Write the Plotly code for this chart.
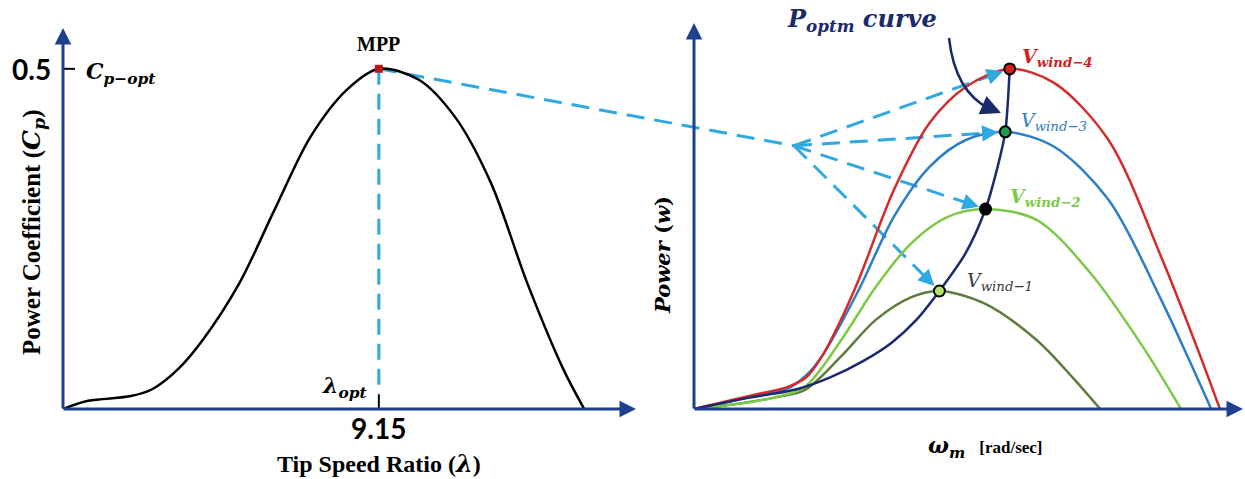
import math
import plotly.graph_objects as go

# ---------------- data ----------------
# Power coefficient curve Cp(lambda)
tsr = [0, 0.73, 1.97, 2.58, 3.34, 4.07, 5.11, 6.13, 7.17, 8.22, 9.15, 10.31, 11.36, 12.40, 13.45, 14.49, 15.10]
cp = [0, 0.012, 0.019, 0.029, 0.059, 0.103, 0.185, 0.293, 0.400, 0.469, 0.5, 0.484, 0.429, 0.332, 0.185, 0.059, 0]
tsr_opt = 9.15
cp_opt = 0.5

# Power vs rotor speed for four wind speeds
w_wind4 = [0, 0.67, 1.25, 1.71, 2.05, 2.35, 2.67, 3.0, 3.64, 4.29, 4.95, 5.75, 6.56, 7.55, 8.51, 9.16, 9.58]
p_wind4 = [0, 0.026, 0.047, 0.065, 0.094, 0.16, 0.26, 0.38, 0.644, 0.841, 0.947, 1.0, 0.959, 0.791, 0.447, 0.182, 0]
w_wind3 = [0, 0.65, 1.2, 1.69, 2.05, 2.35, 3.0, 3.64, 4.29, 4.95, 5.67, 6.56, 7.55, 8.51, 9.02, 9.42]
p_wind3 = [0, 0.022, 0.042, 0.059, 0.1, 0.16, 0.35, 0.565, 0.712, 0.791, 0.815, 0.771, 0.615, 0.321, 0.144, 0]
w_wind2 = [0, 0.84, 1.5, 2.02, 2.67, 3.31, 3.96, 4.62, 5.31, 6.24, 7.22, 8.18, 8.87]
p_wind2 = [0, 0.016, 0.035, 0.065, 0.2, 0.359, 0.488, 0.565, 0.588, 0.556, 0.4, 0.182, 0]
w_wind1 = [0, 0.84, 1.5, 2.02, 2.67, 3.31, 3.96, 4.47, 5.27, 6.24, 6.89, 7.4]
p_wind1 = [0, 0.016, 0.035, 0.056, 0.153, 0.262, 0.329, 0.347, 0.312, 0.203, 0.094, 0]

# Optimum power locus through the peaks
w_optm = [0, 0.96, 1.87, 2.47, 3.07, 3.6, 4.05, 4.47, 4.95, 5.31, 5.53, 5.67, 5.75]
p_optm = [0, 0.032, 0.058, 0.092, 0.14, 0.195, 0.262, 0.347, 0.459, 0.588, 0.712, 0.815, 1.0]

# Peak (MPP) points, wind-1 .. wind-4
peak_w = [4.47, 5.31, 5.67, 5.75]
peak_p = [0.347, 0.588, 0.815, 1.0]
peak_labels = ["V<sub>wind−1</sub>", "V<sub>wind−2</sub>", "V<sub>wind−3</sub>", "V<sub>wind−4</sub>"]

# Junction where the dashed guide lines fan out
hub_w, hub_p = 1.82, 0.774

# ---------------- layout geometry (pixels) ----------------
W, H = 1245, 479
L_X0, L_X1, L_Y0, L_Y1 = 63, 636, 409, 28     # left panel box
R_X0, R_X1, R_Y0, R_Y1 = 694, 1243, 409, 23   # right panel box
L_XR, L_YR = [0, 16.6], [0, 0.56]
R_XR, R_YR = [0, 10.0], [0, 1.135]

NAVY = "#1f3f8f"
CYAN = "#2fa9e0"
RED = "#d42a2a"
BLUE = "#2a7fc6"
LGREEN = "#7cc94a"
OLIVE = "#5e7d3c"
DNAVY = "#1a2a6c"
SERIF = "Liberation Serif"
MATH = "DejaVu Serif"
DASH = "18px,10px"


def pp(x, y):
    """pixel -> paper"""
    return x / W, 1 - y / H


def left_px(x, y):
    px = L_X0 + (x - L_XR[0]) / (L_XR[1] - L_XR[0]) * (L_X1 - L_X0)
    py = L_Y0 - (y - L_YR[0]) / (L_YR[1] - L_YR[0]) * (L_Y0 - L_Y1)
    return px, py


def right_px(x, y):
    px = R_X0 + (x - R_XR[0]) / (R_XR[1] - R_XR[0]) * (R_X1 - R_X0)
    py = R_Y0 - (y - R_YR[0]) / (R_YR[1] - R_YR[0]) * (R_Y0 - R_Y1)
    return px, py


fig = go.Figure()

# Left panel curve
fig.add_trace(go.Scatter(x=tsr, y=cp, mode="lines", line=dict(color="black", width=2.5, shape="spline", smoothing=0.9),
                         xaxis="x", yaxis="y", hoverinfo="skip"))
# vertical dashed guide at lambda_opt
fig.add_trace(go.Scatter(x=[tsr_opt, tsr_opt], y=[cp_opt, 0.021], mode="lines",
                         line=dict(color=CYAN, width=3, dash="16px,9px"), xaxis="x", yaxis="y", hoverinfo="skip"))
fig.add_trace(go.Scatter(x=[tsr_opt, tsr_opt], y=[0.021, 0], mode="lines",
                         line=dict(color="black", width=2), xaxis="x", yaxis="y", hoverinfo="skip"))
fig.add_trace(go.Scatter(x=[tsr_opt], y=[cp_opt], mode="markers",
                         marker=dict(symbol="square", size=8, color="#c0141c"), xaxis="x", yaxis="y", hoverinfo="skip"))

# Right panel curves
for wx, py_, col, wd in [(w_wind1, p_wind1, OLIVE, 2.5), (w_wind2, p_wind2, LGREEN, 2.5),
                         (w_wind3, p_wind3, BLUE, 2.5), (w_wind4, p_wind4, RED, 2.5)]:
    fig.add_trace(go.Scatter(x=wx, y=py_, mode="lines", line=dict(color=col, width=wd, shape="spline", smoothing=0.9),
                             xaxis="x2", yaxis="y2", hoverinfo="skip"))
fig.add_trace(go.Scatter(x=w_optm, y=p_optm, mode="lines", line=dict(color=DNAVY, width=2.5, shape="spline", smoothing=0.8),
                         xaxis="x2", yaxis="y2", hoverinfo="skip"))
fig.add_trace(go.Scatter(x=peak_w, y=peak_p, mode="markers",
                         marker=dict(size=11, color=["#b5e36a", "black", "#1f9b4a", "#d42020"],
                                     line=dict(color="black", width=2)),
                         xaxis="x2", yaxis="y2", hoverinfo="skip"))

shapes = []
annotations = []

# dashed line from MPP to hub (crosses both panels)
ax0, ay0 = left_px(tsr_opt, cp_opt)
hx, hy = right_px(hub_w, hub_p)
shapes.append(dict(type="line", xref="paper", yref="paper",
                   x0=pp(ax0, ay0)[0], y0=pp(ax0, ay0)[1], x1=pp(hx, hy)[0], y1=pp(hx, hy)[1],
                   line=dict(color=CYAN, width=3, dash=DASH), layer="below"))

# dashed fan from hub to each peak, with arrow heads
for w_, p_ in zip(peak_w, peak_p):
    tx, ty = right_px(w_, p_)
    dx, dy = tx - hx, ty - hy
    d = math.hypot(dx, dy)
    ux, uy = dx / d, dy / d
    ex, ey = tx - ux * 16, ty - uy * 16
    shapes.append(dict(type="line", xref="paper", yref="paper",
                       x0=pp(hx, hy)[0], y0=pp(hx, hy)[1], x1=pp(ex, ey)[0], y1=pp(ex, ey)[1],
                       line=dict(color=CYAN, width=3, dash=DASH), layer="below"))
    annotations.append(dict(x=w_, y=p_, xref="x2", yref="y2", ax=-ux * 22, ay=-uy * 22, text="",
                            showarrow=True, arrowhead=2, arrowsize=1.3, arrowwidth=2.5, arrowcolor=CYAN, standoff=7))

# axes drawn as arrows
for (x0, y0, x1, y1) in [(L_X0, L_Y0 + 1, L_X0, L_Y1), (L_X0 - 1, L_Y0, L_X1, L_Y0),
                         (R_X0, R_Y0 + 1, R_X0, R_Y1), (R_X0 - 1, R_Y0, R_X1, R_Y0)]:
    hx_, hy_ = pp(x1, y1)
    annotations.append(dict(x=hx_, y=hy_, xref="paper", yref="paper", ax=x0 - x1, ay=y0 - y1, text="",
                            showarrow=True, arrowhead=2, arrowsize=1.1, arrowwidth=3, arrowcolor=NAVY))

# Cp-opt tick
tx0, ty0 = left_px(0, cp_opt)
shapes.append(dict(type="line", xref="paper", yref="paper", x0=pp(tx0, ty0)[0], y0=pp(tx0, ty0)[1],
                   x1=pp(tx0 + 12, ty0)[0], y1=pp(tx0 + 12, ty0)[1], line=dict(color="black", width=2)))

# curved pointer for P_optm curve
c0 = pp(949, 38); c1 = pp(955, 92); c2 = pp(990, 109)
shapes.append(dict(type="path", xref="paper", yref="paper",
                   path=f"M {c0[0]},{c0[1]} Q {c1[0]},{c1[1]} {c2[0]},{c2[1]}",
                   line=dict(color=DNAVY, width=2.5)))
annotations.append(dict(x=pp(1001, 113)[0], y=pp(1001, 113)[1], xref="paper", yref="paper", ax=-14, ay=-6, text="",
                        showarrow=True, arrowhead=2, arrowsize=1.6, arrowwidth=2.5, arrowcolor=DNAVY))


def txt(x, y, text, size, family=SERIF, color="black", xanchor="center", angle=0):
    px_, py_ = pp(x, y)
    annotations.append(dict(x=px_, y=py_, xref="paper", yref="paper", text=text, showarrow=False,
                            xanchor=xanchor, yanchor="middle", textangle=angle,
                            font=dict(family=family, size=size, color=color)))


# left panel texts
txt(31, 69, "<b>0.5</b>", 28, family="Lato")
txt(84, 73, "<b><i>C<sub>p−opt</sub></i></b>", 22, family=MATH, xanchor="left")
mx, my = left_px(tsr_opt, cp_opt)
txt(mx, 44, "<b>MPP</b>", 20)
txt(mx - 34, 387, "<b><i>λ<sub>opt</sub></i></b>", 22, family=MATH)
txt(mx, 428, "<b>9.15</b>", 28, family="Lato")
txt(mx, 463, "<b>Tip Speed Ratio (</b><span style='font-family:DejaVu Serif'><b><i>λ</i></b></span><b>)</b>", 24)
txt(33, 232, "<b>Power Coefficient (</b><span style='font-family:DejaVu Serif'><b><i>C<sub>p</sub></i></b></span><b>)</b>", 25, angle=-90)

# right panel texts
txt(663, 255, "<b><i>Power</i> (<i>w</i>)</b>", 21, family=MATH, angle=-90)
txt(985, 447, "<b><i>ω<sub>m</sub></i></b>  <span style='font-family:Liberation Serif;font-size:17px'><b>[rad/sec]</b></span>", 22, family=MATH)
txt(862, 20, "<b><i>P<sub>optm</sub> curve</i></b>", 24, family=MATH, color=DNAVY)

label_style = [("#3a3a3a", False), (LGREEN, True), (BLUE, False), ("#cc1f1f", True)]
label_off = [(26, -9), (22, -12), (14, -10), (10, -11)]
for (w_, p_, lab, (col, bold), (ox, oy)) in zip(peak_w, peak_p, peak_labels, label_style, label_off):
    x_, y_ = right_px(w_, p_)
    t = f"<i>{lab}</i>"
    if bold:
        t = f"<b>{t}</b>"
    txt(x_ + ox, y_ + oy, t, 19, family=MATH, color=col, xanchor="left")

fig.update_layout(
    width=W, height=H, margin=dict(l=0, r=0, t=0, b=0),
    paper_bgcolor="white", plot_bgcolor="rgba(0,0,0,0)", showlegend=False,
    xaxis=dict(domain=[L_X0 / W, L_X1 / W], range=L_XR, visible=False),
    yaxis=dict(domain=[1 - L_Y0 / H, 1 - L_Y1 / H], range=L_YR, visible=False),
    xaxis2=dict(domain=[R_X0 / W, R_X1 / W], range=R_XR, visible=False),
    yaxis2=dict(domain=[1 - R_Y0 / H, 1 - R_Y1 / H], range=R_YR, visible=False, anchor="x2"),
    shapes=shapes, annotations=annotations,
)

fig.write_html("out.html")
